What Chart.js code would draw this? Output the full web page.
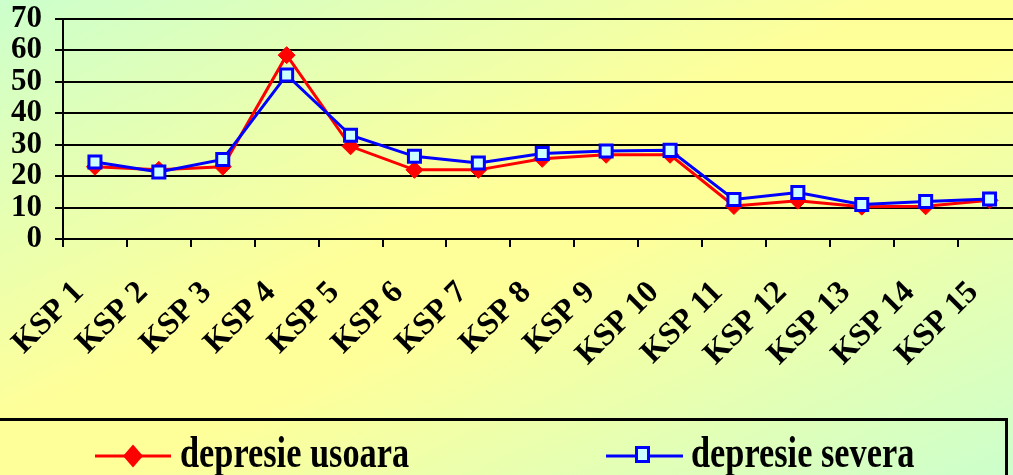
<!DOCTYPE html>
<html>
<head>
<meta charset="utf-8">
<script src="https://cdn.jsdelivr.net/npm/chart.js@4.4.1/dist/chart.umd.min.js"></script>
<style>
  html, body { margin: 0; padding: 0; width: 1013px; height: 475px; overflow: hidden; }
  body {
    position: relative;
    background: linear-gradient(to bottom right, #ccffcc 0%, #ffff99 45%, #ffff99 55%, #ccffcc 100%);
    font-family: "Liberation Serif", "Times New Roman", serif;
  }
  #chart { position: absolute; left: 0; top: 0; }
  #legend-box {
    position: absolute; left: -6px; top: 418px; width: 1014px; height: 80px;
    border: 3px solid #000; box-sizing: border-box;
  }
  .legend-key { position: absolute; }
  .legend-text {
    position: absolute; font-size: 44px; font-weight: bold; line-height: 44px;
    white-space: nowrap; color: #000; transform: scaleX(0.78); transform-origin: 0 0;
  }
</style>
</head>
<body>
<canvas id="chart" width="1033" height="475"></canvas>
<div id="legend-box"></div>
<div id="legend"></div>
<script>
// Survey categories and the share (%) for each depression level
const categories = ['KSP 1', 'KSP 2', 'KSP 3', 'KSP 4', 'KSP 5', 'KSP 6', 'KSP 7', 'KSP 8',
                    'KSP 9', 'KSP 10', 'KSP 11', 'KSP 12', 'KSP 13', 'KSP 14', 'KSP 15'];
const depresieUsoara = [23, 22, 23, 58.5, 29.5, 22, 22, 25.5, 26.8, 26.8, 10.5, 12.2, 10.3, 10.4, 12.3];
const depresieSevera = [24.5, 21.3, 25.3, 52.2, 33, 26.3, 24.2, 27.2, 28, 28.2, 12.6, 14.8, 11, 11.9, 12.7];
const seriesNames = ['depresie usoara', 'depresie severa'];
const yMin = 0, yMax = 70, yStep = 10;

const serif = "'Liberation Serif', 'Times New Roman', serif";

new Chart(document.getElementById('chart'), {
  type: 'line',
  data: {
    labels: categories,
    datasets: [
      {
        label: seriesNames[0],
        data: depresieUsoara,
        borderColor: '#ff0000',
        borderWidth: 3,
        pointStyle: 'rectRot',
        pointRadius: 8.5,
        pointBackgroundColor: '#ff0000',
        pointBorderColor: '#ff0000',
        pointBorderWidth: 1,
        tension: 0,
        order: 1
      },
      {
        label: seriesNames[1],
        data: depresieSevera,
        borderColor: '#0000ff',
        borderWidth: 3,
        pointStyle: 'rect',
        pointRadius: 8.5,
        pointBackgroundColor: '#ccffff',
        pointBorderColor: '#0000ff',
        pointBorderWidth: 3,
        tension: 0,
        order: 0
      }
    ]
  },
  options: {
    responsive: false,
    animation: false,
    layout: { padding: { top: 19, left: 0, right: 0, bottom: 0 } },
    plugins: { legend: { display: false }, tooltip: { enabled: false } },
    scales: {
      x: {
        type: 'category',
        offset: true,
        afterFit: s => { s.height = 236; s.paddingLeft = 0; s.paddingRight = 0; },
        grid: { drawOnChartArea: false, drawTicks: true, tickLength: 8, color: '#000', lineWidth: 2, offset: true },
        border: { display: true, color: '#000', width: 2 },
        ticks: {
          autoSkip: false, maxRotation: 45, minRotation: 45, padding: 27, labelOffset: -16,
          color: '#000', font: { family: serif, size: 32, weight: 'bold' }
        }
      },
      y: {
        min: yMin, max: yMax,
        afterFit: s => { s.width = 63; s.paddingTop = 0; s.paddingBottom = 0; },
        grid: { color: '#000', lineWidth: 2, tickLength: 8, drawTicks: true },
        border: { display: true, color: '#000', width: 2 },
        ticks: {
          stepSize: yStep, autoSkip: false, padding: 13, color: '#000',
          font: { family: serif, size: 31, weight: 'bold' }
        }
      }
    }
  }
});

// Legend below the plot: line-with-marker keys and series names
const legend = document.getElementById('legend');
const keys = [
  { left: 95, text: 180,
    svg: '<svg width="78" height="24"><line x1="0" y1="12" x2="76" y2="12" stroke="#ff0000" stroke-width="3"/>' +
         '<polygon points="38,0.5 48,12 38,23.5 28,12" fill="#ff0000"/></svg>' },
  { left: 606, text: 691,
    svg: '<svg width="78" height="24"><line x1="0" y1="12" x2="77" y2="12" stroke="#0000ff" stroke-width="3"/>' +
         '<rect x="30.5" y="3.5" width="12" height="14" fill="#ccffff" stroke="#0000ff" stroke-width="3"/></svg>' }
];
keys.forEach((k, i) => {
  const key = document.createElement('div');
  key.className = 'legend-key';
  key.style.left = k.left + 'px';
  key.style.top = '444px';
  key.innerHTML = k.svg;
  legend.appendChild(key);
  const t = document.createElement('div');
  t.className = 'legend-text';
  t.style.left = k.text + 'px';
  t.style.top = '431px';
  t.textContent = seriesNames[i];
  legend.appendChild(t);
});
</script>
</body>
</html>
